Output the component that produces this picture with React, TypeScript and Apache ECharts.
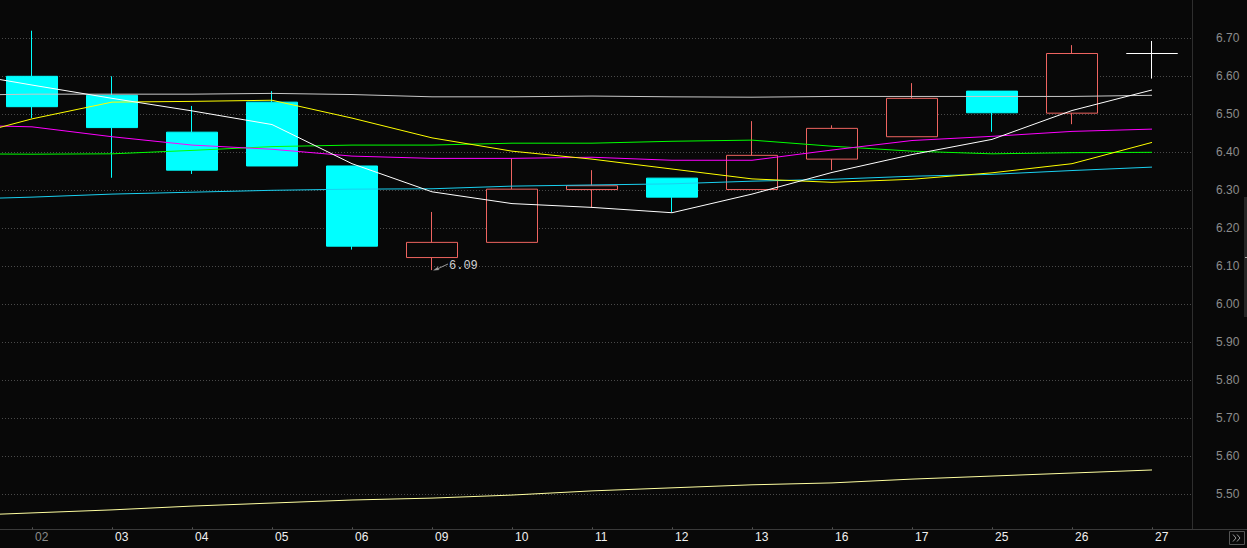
import React, { useEffect, useRef } from 'react';
import * as echarts from 'echarts';

// Leading hidden category (off-screen on the left) lets the average lines reach the left edge.
const categories = ['', '02', '03', '04', '05', '06', '09', '10', '11', '12', '13', '16', '17', '25', '26', '27'];

// Daily candles for the visible days (02 .. 27)
const opens = [6.60, 6.55, 6.453, 6.532, 6.364, 6.123, 6.163, 6.302, 6.332, 6.302, 6.382, 6.441, 6.561, 6.503, 6.660];
const closes = [6.52, 6.465, 6.353, 6.364, 6.153, 6.163, 6.303, 6.312, 6.282, 6.392, 6.463, 6.542, 6.504, 6.660, 6.660];
const lows = [6.49, 6.333, 6.343, 6.364, 6.144, 6.09, 6.163, 6.255, 6.243, 6.302, 6.353, 6.441, 6.454, 6.474, 6.594];
const highs = [6.72, 6.60, 6.522, 6.561, 6.364, 6.243, 6.384, 6.353, 6.332, 6.482, 6.471, 6.582, 6.561, 6.682, 6.693];

// Moving-average lines (first value belongs to the hidden leading category)
const maWhite = [6.613, 6.577, 6.542, 6.509, 6.473, 6.370, 6.296, 6.265, 6.255, 6.241, 6.290, 6.347, 6.394, 6.434, 6.510, 6.564];
const maYellow = [6.432, 6.488, 6.532, 6.534, 6.537, 6.490, 6.438, 6.403, 6.382, 6.356, 6.330, 6.321, 6.329, 6.346, 6.370, 6.426];
const maMagenta = [6.472, 6.467, 6.441, 6.419, 6.408, 6.390, 6.384, 6.384, 6.387, 6.379, 6.379, 6.406, 6.431, 6.442, 6.455, 6.461];
const maGreen = [6.396, 6.395, 6.396, 6.405, 6.415, 6.419, 6.419, 6.424, 6.424, 6.429, 6.432, 6.416, 6.403, 6.396, 6.399, 6.400];
const maGray = [6.550, 6.553, 6.553, 6.553, 6.555, 6.552, 6.546, 6.546, 6.548, 6.546, 6.545, 6.547, 6.547, 6.547, 6.547, 6.550];
const maCyan = [6.276, 6.282, 6.290, 6.295, 6.300, 6.303, 6.304, 6.311, 6.314, 6.317, 6.324, 6.329, 6.337, 6.342, 6.352, 6.361];
const maLong = [5.443, 5.451, 5.459, 5.469, 5.477, 5.485, 5.490, 5.498, 5.509, 5.517, 5.525, 5.530, 5.540, 5.548, 5.556, 5.564];

const yMin = 5.4;
const yMax = 6.8;
const yStep = 0.1;

const BG = '#080808';
const FONT = 'Arial, "Liberation Sans", sans-serif';
// The chart div is shifted left so the hidden leading category sits off-page.
const SHIFT = 88;
const DIV_W = 1247 + SHIFT;

function buildOption() {
  const candleData: any[] = ['-'];
  for (let i = 0; i < opens.length; i++) {
    candleData.push([opens[i], closes[i], lows[i], highs[i]]);
  }
  let minIdx = 0;
  for (let i = 1; i < lows.length; i++) if (lows[i] < lows[minIdx]) minIdx = i;
  const minCat = categories[minIdx + 1];
  const minVal = lows[minIdx];

  const line = (name: string, data: number[], color: string) => ({
    name,
    type: 'line',
    data,
    symbol: 'none',
    smooth: false,
    silent: true,
    lineStyle: { color, width: 1 },
    z: 3,
  });

  const X = (x: number) => x + SHIFT;

  return {
    animation: false,
    backgroundColor: BG,
    grid: { left: 0, right: 55, top: 0.3, bottom: 15.7 },
    xAxis: {
      type: 'category',
      data: categories,
      boundaryGap: true,
      offset: -3,
      axisLine: { show: false },
      axisTick: { show: true, alignWithLabel: true, inside: true, length: 2, lineStyle: { color: '#555555' } },
      axisLabel: {
        interval: 0,
        align: 'left',
        margin: 2,
        padding: [0, 0, 0, 3],
        fontSize: 12,
        fontFamily: FONT,
        color: (v: string) => (v === '02' ? '#8a8a8a' : '#f2f2f2'),
      },
      splitLine: { show: false },
    },
    yAxis: {
      type: 'value',
      position: 'right',
      min: yMin,
      max: yMax,
      interval: yStep,
      axisLine: { show: false },
      axisTick: { show: false },
      axisLabel: {
        margin: 24,
        align: 'left',
        color: '#8c8c8c',
        fontSize: 12,
        fontFamily: FONT,
        showMinLabel: false,
        showMaxLabel: false,
        formatter: (v: number) => v.toFixed(2),
      },
      splitLine: {
        show: true,
        showMinLine: false,
        showMaxLine: false,
        lineStyle: { color: '#4a4a4a', width: 1, type: [1, 2] },
      },
    },
    series: [
      {
        name: 'K',
        type: 'candlestick',
        data: candleData,
        barWidth: 52,
        z: 2,
        itemStyle: {
          color: BG,
          color0: '#00ffff',
          borderColor: '#ee6460',
          borderColor0: '#00ffff',
          borderColorDoji: '#ffffff',
          borderWidth: 1,
        },
        markPoint: {
          silent: true,
          data: [
            {
              coord: [minCat, minVal],
              symbol: 'path://M0,8 L6,3 L5,5.3 L16,0 L16,1 L5.6,6.2 L7,7.2 Z',
              symbolSize: [15, 7],
              symbolKeepAspect: false,
              symbolOffset: [8.5, -3],
              itemStyle: { color: '#9a9a9a' },
              label: {
                show: true,
                position: 'right',
                distance: 1,
                offset: [0, -1],
                formatter: minVal.toFixed(2),
                color: '#d0d0d0',
                fontSize: 12,
                fontFamily: '"Liberation Mono", "DejaVu Sans Mono", monospace',
              },
            },
          ],
        },
      },
      line('MA120', maCyan, '#1ad0f0'),
      line('MA60', maGray, '#c8c8c8'),
      line('MA30', maGreen, '#00ff00'),
      line('MA20', maMagenta, '#ff00ff'),
      line('MA10', maYellow, '#ffff00'),
      line('MA5', maWhite, '#ffffff'),
      line('MA250', maLong, '#ffffa0'),
    ],
    graphic: [
      { type: 'line', silent: true, shape: { x1: X(0), y1: 529.5, x2: X(1247), y2: 529.5 }, style: { stroke: '#3a3a3a', lineWidth: 1 } },
      { type: 'line', silent: true, shape: { x1: X(1192.5), y1: 0, x2: X(1192.5), y2: 529 }, style: { stroke: '#2e2e2e', lineWidth: 1 } },
      { type: 'rect', silent: true, shape: { x: X(1244), y: 197, width: 3, height: 120 }, style: { fill: '#262626' } },
      { type: 'line', silent: true, shape: { x1: X(1245), y1: 257.5, x2: X(1247), y2: 257.5 }, style: { stroke: '#aaaaaa', lineWidth: 1 } },
      { type: 'rect', silent: true, shape: { x: X(1229.5), y: 531.5, width: 15, height: 13 }, style: { fill: 'none', stroke: '#555555', lineWidth: 1 } },
      { type: 'polyline', silent: true, shape: { points: [[X(1233), 534.5], [X(1236), 538], [X(1233), 541.5]] }, style: { stroke: '#9a9a9a', lineWidth: 1, fill: 'none' } },
      { type: 'polyline', silent: true, shape: { points: [[X(1237), 534.5], [X(1240), 538], [X(1237), 541.5]] }, style: { stroke: '#9a9a9a', lineWidth: 1, fill: 'none' } },
    ],
  };
}

export default function App() {
  const ref = useRef<HTMLDivElement>(null);
  useEffect(() => {
    if (!ref.current) return;
    const chart = echarts.init(ref.current, null, { renderer: 'svg' });
    chart.setOption(buildOption() as any);
    return () => {
      chart.dispose();
    };
  }, []);
  return (
    <div style={{ position: 'absolute', left: 0, top: 0, width: 1247, height: 548, overflow: 'hidden', background: BG }}>
      <div
        ref={ref}
        style={{ position: 'absolute', left: -SHIFT, top: 0, width: DIV_W, height: 548 }}
      />
    </div>
  );
}
